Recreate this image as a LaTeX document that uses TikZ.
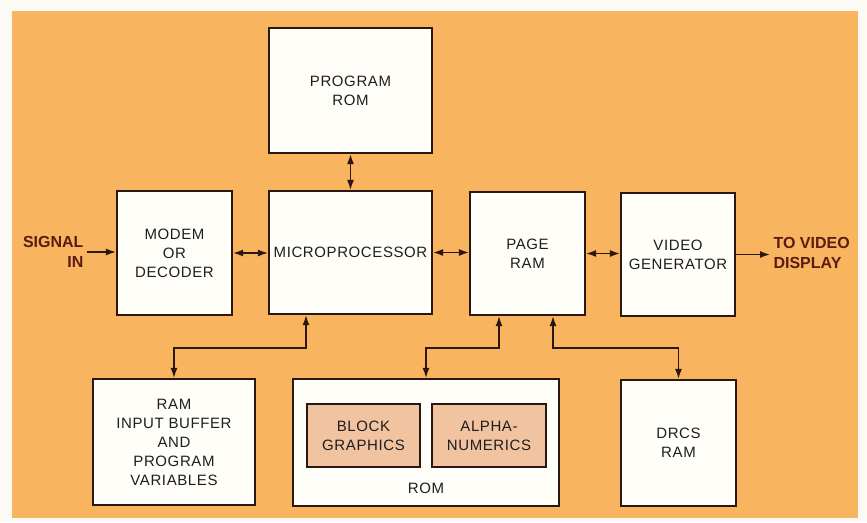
\documentclass[tikz,border=0pt]{standalone}
\usepackage{fontspec}
\setmainfont{Liberation Sans}
\newfontfamily\boxfont[LetterSpace=4]{Liberation Sans}
\usetikzlibrary{arrows.meta,calc}
\definecolor{bgorange}{HTML}{F8B45E}
\definecolor{paper}{HTML}{FCFAF4}
\definecolor{ink}{HTML}{2A1810}
\definecolor{boxfill}{HTML}{FFFEF8}
\definecolor{peach}{HTML}{F2C3A0}
\definecolor{maroon}{HTML}{5A1C12}
\definecolor{txt}{HTML}{1E1E1E}
\begin{document}
\begin{tikzpicture}[x=1pt,y=-1pt,
  blk/.style={draw=ink,line width=2.2pt,fill=boxfill,inner sep=0pt,align=center,
    font=\boxfont\fontsize{15}{19}\selectfont,text=txt},
  inner/.style={blk,fill=peach,line width=1.8pt},
  lbl/.style={font=\boxfont\fontsize{15}{19}\selectfont,text=txt},
  ext/.style={font=\fontsize{16}{20}\bfseries\selectfont,text=maroon},
  conn/.style={draw=ink,line width=1.4pt},
  arr/.style={conn,-{Latex[length=10pt,width=7pt]}},
  biarr/.style={conn,{Latex[length=10pt,width=7pt]}-{Latex[length=10pt,width=7pt]}}]
\fill[paper] (0,0) rectangle (867,522);
\useasboundingbox (0,0) rectangle (867,522);
\fill[bgorange] (12,11) rectangle (858,518);

\node[blk,minimum width=163pt,minimum height=125pt] (prog) at (350.5,90.5) {PROGRAM\\ROM};
\node[blk,minimum width=115pt,minimum height=124pt] (modem) at (174.5,253) {MODEM\\OR\\DECODER};
\node[blk,minimum width=163pt,minimum height=123pt] (micro) at (350.5,252.5) {MICROPROCESSOR};
\node[blk,minimum width=115pt,minimum height=123pt] (page) at (527.5,253.5) {PAGE\\RAM};
\node[blk,minimum width=114pt,minimum height=123pt] (video) at (678,254.5) {VIDEO\\GENERATOR};
\node[blk,minimum width=162pt,minimum height=126pt] (ram) at (174,442) {RAM\\INPUT BUFFER\\AND\\PROGRAM\\VARIABLES};
\node[blk,minimum width=266pt,minimum height=127pt] (rom) at (426,442.5) {};
\node[inner,minimum width=113pt,minimum height=63pt] (block) at (363.5,435.5) {BLOCK\\GRAPHICS};
\node[inner,minimum width=114pt,minimum height=63pt] (alpha) at (489,435.5) {ALPHA-\\NUMERICS};
\node[lbl] (romlbl) at (426,488) {ROM};
\node[blk,minimum width=115pt,minimum height=126pt] (drcs) at (678.5,443) {DRCS\\RAM};

\node[ext,align=right,anchor=east] (sig) at (87,252) {SIGNAL\\IN};
\node[ext,align=left,anchor=west] (disp) at (770,253) {TO VIDEO\\DISPLAY};

\draw[arr] (sig.east) -- (sig.east -| modem.west);
\draw[biarr] (modem.east) -- (modem.east -| micro.west);
\draw[biarr] (micro.east) -- (micro.east -| page.west);
\draw[biarr] (page.east) -- (page.east -| video.west);
\draw[arr] (video.east) -- (video.east -| disp.west);
\draw[biarr] (prog.south) -- (micro.north);
\draw[biarr] (ram.north) |- ($(micro.south)+(-44.5,33)$) -- ($(micro.south)+(-44.5,0)$);
\draw[biarr] ($(page.south)+(-28.5,0)$) -- ($(page.south)+(-28.5,32)$) -| (rom.north);
\draw[biarr] ($(page.south)+(25.5,0)$) -- ($(page.south)+(25.5,32)$) -| (drcs.north);
\end{tikzpicture}
\end{document}
